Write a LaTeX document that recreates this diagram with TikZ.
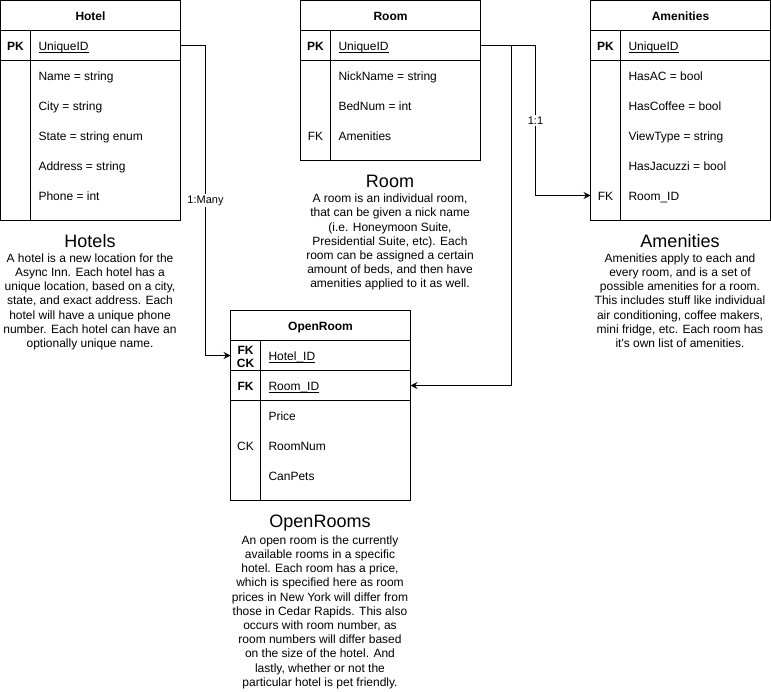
\documentclass[tikz,border=0pt]{standalone}
\usepackage{fontspec}
\setmainfont{Liberation Sans}
\usetikzlibrary{arrows.meta,calc}

% underlined key field, with the rule close under the baseline
\newsavebox\ulbox
\newcommand\keyul[1]{\sbox\ulbox{#1}\rlap{\usebox\ulbox}\rule[-1.6pt]{\wd\ulbox}{0.7pt}}

\begin{document}
\begin{tikzpicture}[x=1pt,y=-1pt,line width=1pt,
  every node/.style={inner sep=0pt,outer sep=0pt},
  tabhead/.style={draw,minimum width=180pt,minimum height=30pt,anchor=north west,
    text height=10.6pt,text depth=0pt,font=\fontsize{12}{14}\selectfont\bfseries},
  tabrow/.style={draw,minimum width=180pt,minimum height=#1,anchor=north west},
  keytext/.style={anchor=center,align=center,yshift=-1pt,font=\fontsize{12}{13}\selectfont\bfseries},
  keyplain/.style={anchor=center,yshift=-1pt,font=\fontsize{12}{13}\selectfont},
  field/.style={anchor=west,font=\fontsize{12}{14}\selectfont,text height=13.6pt,text depth=3pt},
  title/.style={anchor=base,font=\fontsize{18}{20}\selectfont},
  desc/.style={anchor=north,align=center,font=\fontsize{12}{14.2}\selectfont},
  rel/.style={-{Stealth[length=7pt,width=7pt,inset=2.5pt]}},
  card/.style={fill=white,font=\fontsize{11}{12}\selectfont,inner sep=1.5pt}
]
\useasboundingbox (0,0) rectangle (771,691);

% ---------- Hotel ----------
\node[tabhead] (hotel) at (0.5,0.5) {Hotel};
\node[tabrow=30pt] (hotel-pk) at (hotel.south west) {};
\node[tabrow=160pt] (hotel-body) at (hotel-pk.south west) {};
\draw ($(hotel-pk.north west)+(30,0)$) -- ($(hotel-body.south west)+(30,0)$);
\node[keytext] (hotel-pk-k) at ($(hotel-pk.west)+(15,0)$) {PK};
\node[field] (hotel-pk-f) at ($(hotel-pk.west)+(38,0)$) {\keyul{UniqueID}};
\foreach \t [count=\i] in {Name = string, City = string, State = string enum, Address = string, Phone = int}
  \node[field] (hotel-f\i) at ($(hotel-body.north west)+(38,30*\i-15)$) {\t};

% ---------- Room ----------
\node[tabhead] (room) at (300.5,0.5) {Room};
\node[tabrow=30pt] (room-pk) at (room.south west) {};
\node[tabrow=100pt] (room-body) at (room-pk.south west) {};
\draw ($(room-pk.north west)+(30,0)$) -- ($(room-body.south west)+(30,0)$);
\node[keytext] (room-pk-k) at ($(room-pk.west)+(15,0)$) {PK};
\node[field] (room-pk-f) at ($(room-pk.west)+(38,0)$) {\keyul{UniqueID}};
\foreach \t [count=\i] in {NickName = string, BedNum = int, Amenities}
  \node[field] (room-f\i) at ($(room-body.north west)+(38,30*\i-15)$) {\t};
\node[keyplain] (room-fk) at ($(room-body.north west)+(15,75)$) {FK};

% ---------- Amenities ----------
\node[tabhead] (amen) at (590.5,0.5) {Amenities};
\node[tabrow=30pt] (amen-pk) at (amen.south west) {};
\node[tabrow=160pt] (amen-body) at (amen-pk.south west) {};
\draw ($(amen-pk.north west)+(30,0)$) -- ($(amen-body.south west)+(30,0)$);
\node[keytext] (amen-pk-k) at ($(amen-pk.west)+(15,0)$) {PK};
\node[field] (amen-pk-f) at ($(amen-pk.west)+(38,0)$) {\keyul{UniqueID}};
\foreach \t [count=\i] in {HasAC = bool, HasCoffee = bool, ViewType = string, HasJacuzzi = bool, Room\_ID}
  \node[field] (amen-f\i) at ($(amen-body.north west)+(38,30*\i-15)$) {\t};
\node[keyplain] (amen-fk) at ($(amen-body.north west)+(15,135)$) {FK};
\coordinate (amen-in) at ($(amen-body.north west)+(0,135)$);

% ---------- OpenRoom ----------
\node[tabhead] (or) at (230.5,310.5) {OpenRoom};
\node[tabrow=30pt] (or-hotel) at (or.south west) {};
\node[tabrow=30pt] (or-room) at (or-hotel.south west) {};
\node[tabrow=100pt] (or-body) at (or-room.south west) {};
\draw ($(or-hotel.north west)+(30,0)$) -- ($(or-body.south west)+(30,0)$);
\node[keytext] (or-hotel-k) at ($(or-hotel.west)+(15,0)$) {FK\\CK};
\node[field] (or-hotel-f) at ($(or-hotel.west)+(38,0)$) {\keyul{Hotel\_ID}};
\node[keytext] (or-room-k) at ($(or-room.west)+(15,0)$) {FK};
\node[field] (or-room-f) at ($(or-room.west)+(38,0)$) {\keyul{Room\_ID}};
\foreach \t [count=\i] in {Price, RoomNum, CanPets}
  \node[field] (or-f\i) at ($(or-body.north west)+(38,30*\i-15)$) {\t};
\node[keyplain] (or-ck) at ($(or-body.north west)+(15,45)$) {CK};

% ---------- Relations ----------
\draw[rel] (hotel-pk.east) -- ++(25,0) |- node[card,pos=0.25] (lbl-many) {1:Many} (or-hotel.west);
\draw[rel] (room-pk.east) -- ++(55,0) |- node[card,pos=0.25] (lbl-one) {1:1} (amen-in);
\draw[rel] (room-pk.east) -- ++(31,0) |- (or-room.east);

% ---------- Descriptions ----------
\node[title] (t-hotel) at (90,247) {Hotels};
\node[desc] (d-hotel) at (90,253.5) {A hotel is a new location for the\\
Async Inn. Each hotel has a\\
unique location, based on a city,\\
state, and exact address. Each\\
hotel will have a unique phone\\
number. Each hotel can have an\\
optionally unique name.};

\node[title] (t-room) at (390,187) {Room};
\node[desc] (d-room) at (390,194) {A room is an individual room,\\
that can be given a nick name\\
(i.e. Honeymoon Suite,\\
Presidential Suite, etc). Each\\
room can be assigned a certain\\
amount of beds, and then have\\
amenities applied to it as well.};

\node[title] (t-amen) at (680,247) {Amenities};
\node[desc] (d-amen) at (680,253.5) {Amenities apply to each and\\
every room, and is a set of\\
possible amenities for a room.\\
This includes stuff like individual\\
air conditioning, coffee makers,\\
mini fridge, etc. Each room has\\
it\textquotesingle s own list of amenities.};

\node[title] (t-or) at (320,527) {OpenRooms};
\node[desc] (d-or) at (320,535.5) {An open room is the currently\\
available rooms in a specific\\
hotel. Each room has a price,\\
which is specified here as room\\
prices in New York will differ from\\
those in Cedar Rapids. This also\\
occurs with room number, as\\
room numbers will differ based\\
on the size of the hotel. And\\
lastly, whether or not the\\
particular hotel is pet friendly.};
\end{tikzpicture}
\end{document}
